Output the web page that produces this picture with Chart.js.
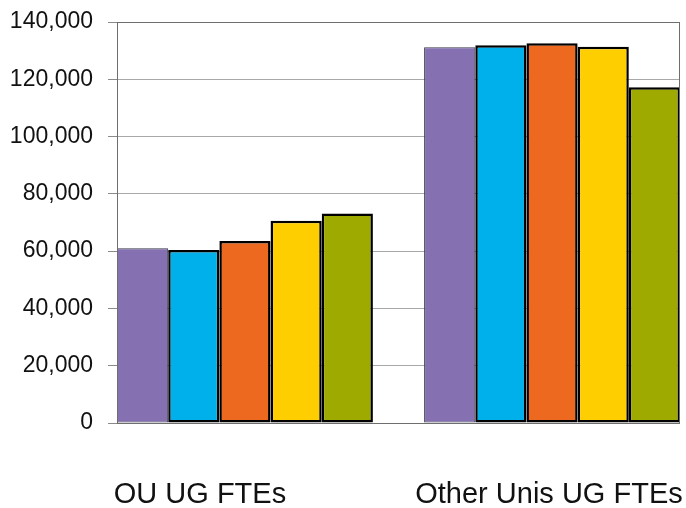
<!DOCTYPE html>
<html>
<head>
<meta charset="utf-8">
<script src="https://cdn.jsdelivr.net/npm/chart.js@4"></script>
<style>
  html, body { margin: 0; padding: 0; background: #fff; }
  #wrap { width: 686px; height: 508px; position: relative; }
</style>
</head>
<body>
<div id="wrap"><canvas id="chart"></canvas></div>
<script>
const categories = ['OU UG FTEs', 'Other Unis UG FTEs'];
const seriesNames = ['Series 1', 'Series 2', 'Series 3', 'Series 4', 'Series 5'];
const s1 = [61000, 131200];
const s2 = [60400, 131900];
const s3 = [63500, 132600];
const s4 = [70600, 131400];
const s5 = [73100, 117200];
const yTicks = [0, 20000, 40000, 60000, 80000, 100000, 120000, 140000];

const colors = ['#8570B2', '#00B0EA', '#EE6920', '#FFCE00', '#9EAA00'];
const FONT = "'Liberation Sans', Arial, sans-serif";

// place a category scale's centres at given fractions of the plot width
const placeCats = (a, b) => (s) => {
    s._valueRange = 1 / (b - a);
    s._startValue = -a * s._valueRange;
};

const frame = {
    id: 'frame',
    afterDraw(c) {
        const { left, top, right, bottom } = c.chartArea;
        const ctx = c.ctx;
        ctx.save();
        ctx.strokeStyle = '#6e6e6e';
        ctx.lineWidth = 1;
        ctx.strokeRect(Math.round(left) + 0.5, Math.round(top) + 0.5, Math.round(right - left) - 1, Math.round(bottom - top));
        ctx.restore();
    }
};

const datasets = [s1, s2, s3, s4, s5].map((d, i) => ({
    label: seriesNames[i],
    data: d,
    xAxisID: 'x',
    backgroundColor: colors[i],
    borderColor: i === 0 ? '#3a3a4a' : '#000',
    borderWidth: i === 0 ? 1 : 2.5,
    borderSkipped: false,
    categoryPercentage: 5 / 6,
    barPercentage: 1
}));

new Chart(document.getElementById('chart'), {
    type: 'bar',
    data: { labels: categories, datasets },
    options: {
        responsive: true,
        maintainAspectRatio: false,
        animation: false,
        layout: { padding: { left: 0, right: 6, top: 22, bottom: 0 } },
        plugins: { legend: { display: false }, tooltip: { enabled: false } },
        scales: {
            x: {
                display: false,
                afterBuildTicks: placeCats(2.5 / 11, 8.5 / 11)
            },
            x2: {
                type: 'category',
                labels: categories,
                position: 'bottom',
                grid: { display: false, drawTicks: false },
                border: { display: false },
                ticks: { color: '#111', font: { family: FONT, size: 29 }, padding: 55, maxRotation: 0, autoSkip: false },
                afterBuildTicks: placeCats(0.1474, 0.7673),
                afterFit: (s) => { s.height = 85; s.paddingLeft = 0; s.paddingRight = 0; }
            },
            y: {
                min: 0,
                max: 140000,
                afterBuildTicks: (s) => { s.ticks = yTicks.map(v => ({ value: v })); },
                afterFit: (s) => { s.width = 117; s.paddingTop = 0; s.paddingBottom = 0; },
                grid: { color: '#a8a8a8', lineWidth: 1, tickLength: 9, tickColor: '#8a8a8a' },
                border: { display: true, color: '#7a7a7a' },
                ticks: {
                    color: '#111',
                    padding: 15,
                    font: { family: FONT, size: 23 },
                    callback: (v) => v.toLocaleString('en-US')
                }
            }
        }
    },
    plugins: [frame]
});
</script>
</body>
</html>
